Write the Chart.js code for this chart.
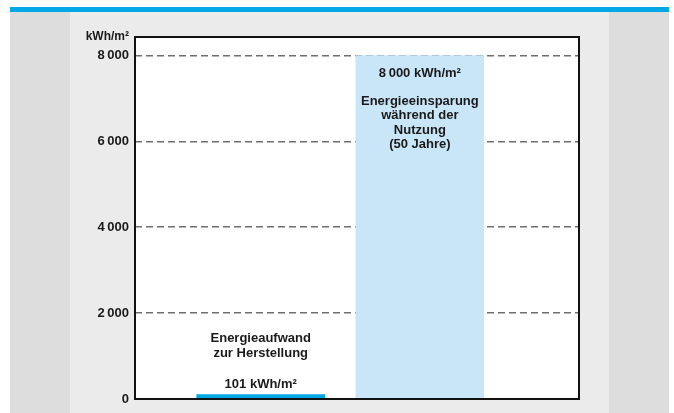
<!DOCTYPE html>
<html>
<head>
<meta charset="utf-8">
<script src="https://cdn.jsdelivr.net/npm/chart.js@4/dist/chart.umd.min.js"></script>
<style>
  html, body { margin: 0; padding: 0; background: #fff; }
  #chart { display: block; }
</style>
</head>
<body>
<canvas id="chart" width="674" height="413"></canvas>
<script>
// DATA
const categories = ['Energieaufwand zur Herstellung', 'Energieeinsparung während der Nutzung (50 Jahre)'];
const values = [101, 8000];
const valueLabels = ['101 kWh/m²', '8\u2009000 kWh/m²'];
const captionLines = [
  ['Energieaufwand', 'zur Herstellung'],
  ['Energieeinsparung', 'während der', 'Nutzung', '(50 Jahre)']
];
const yTickValues = [0, 2000, 4000, 6000, 8000];
const yTickLabels = ['0', '2\u2009000', '4\u2009000', '6\u2009000', '8\u2009000'];
const unitLabel = 'kWh/m²';

const barColors = ['#00a8e6', '#c9e6f8'];
const textColor = '#1a1a1a';
const fontFamily = '"Liberation Sans", Arial, sans-serif';

// page background, side panels and blue band
const backdrop = {
  id: 'backdrop',
  beforeDraw(chart) {
    const ctx = chart.ctx;
    const area = chart.chartArea;
    ctx.save();
    ctx.fillStyle = '#ffffff';
    ctx.fillRect(0, 0, chart.width, chart.height);
    ctx.fillStyle = '#dddddd';
    ctx.fillRect(10, 12, 659, chart.height - 12);
    ctx.fillStyle = '#ebebeb';
    ctx.fillRect(70, 12, 539, chart.height - 12);
    ctx.fillStyle = '#00a8e6';
    ctx.fillRect(10, 7, 659, 5);
    ctx.fillStyle = '#ffffff';
    ctx.fillRect(area.left, area.top, area.right - area.left, area.bottom - area.top);
    ctx.restore();
  }
};

// captions, unit label and frame
const annotations = {
  id: 'annotations',
  afterDatasetsDraw(chart) {
    const ctx = chart.ctx;
    const area = chart.chartArea;
    const meta = chart.getDatasetMeta(0);
    ctx.save();
    ctx.fillStyle = textColor;
    ctx.textAlign = 'center';
    ctx.textBaseline = 'alphabetic';
    ctx.font = 'bold 13px ' + fontFamily;
    meta.data.forEach((bar, i) => {
      const lines = captionLines[i];
      if (bar.base - bar.y > 100) {
        // tall bar: text inside
        ctx.fillText(valueLabels[i], bar.x, bar.y + 21.5);
        lines.forEach((l, j) => ctx.fillText(l, bar.x, bar.y + 49.5 + j * 14.5));
      } else {
        // short bar: text above
        ctx.fillText(valueLabels[i], bar.x, bar.y - 6.5);
        lines.forEach((l, j) => ctx.fillText(l, bar.x, bar.y - 37.5 - (lines.length - 1 - j) * 15));
      }
    });

    ctx.textAlign = 'right';
    ctx.font = 'bold 12px ' + fontFamily;
    ctx.fillText(unitLabel, area.left - 6, area.top + 3);

    ctx.strokeStyle = '#111111';
    ctx.lineWidth = 2;
    ctx.strokeRect(area.left, area.top, area.right - area.left, area.bottom - area.top);
    ctx.restore();
  }
};

const ctx = document.getElementById('chart').getContext('2d');
const chart = new Chart(ctx, {
  type: 'bar',
  data: {
    labels: categories,
    datasets: [{
      label: 'kWh/m²',
      data: values.map((v, i) => ({ x: i, y: v })),
      backgroundColor: barColors,
      borderWidth: 0,
      barThickness: 128
    }]
  },
  options: {
    responsive: false,
    animation: false,
    layout: {
      padding: { top: 37, right: 95, bottom: 14, left: 0 }
    },
    plugins: {
      legend: { display: false },
      title: { display: false },
      tooltip: { enabled: false }
    },
    scales: {
      x: {
        type: 'linear',
        display: false,
        offset: false,
        min: -0.79,
        max: 2.0
      },
      y: {
        min: 0,
        max: 8430,
        afterFit: function(scale) {
          scale.width = 135;
        },
        afterBuildTicks: function(scale) {
          scale.ticks = yTickValues.map(v => ({ value: v }));
        },
        ticks: {
          padding: 6,
          color: textColor,
          font: { family: fontFamily, size: 13, weight: 'bold' },
          callback: function(value) {
            const idx = yTickValues.indexOf(value);
            return idx >= 0 ? yTickLabels[idx] : '';
          }
        },
        grid: {
          drawTicks: false,
          lineWidth: 1.5,
          color: function(c) {
            return c.tick && c.tick.value === 0 ? 'rgba(0,0,0,0)' : '#6e6e6e';
          }
        },
        border: {
          display: false,
          dash: [7, 4]
        }
      }
    }
  },
  plugins: [backdrop, annotations]
});
</script>
</body>
</html>
